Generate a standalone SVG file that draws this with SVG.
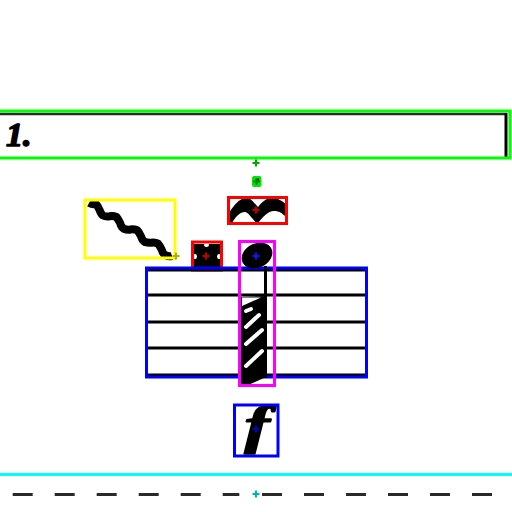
<svg xmlns="http://www.w3.org/2000/svg" width="512" height="512" viewBox="0 0 512 512">
<style>
.box{fill:none;stroke-width:3}
.staff{stroke:#000;stroke-width:3}
.ink{fill:#000}
.mark{fill:none;stroke-width:2.2}
.txt{font-family:"Liberation Serif","Times New Roman",serif;font-weight:bold;font-style:italic;fill:#000;stroke:#000;stroke-linejoin:round}
</style>
<defs>
<path id="plus" d="M-3.5,0H3.5M0,-3.5V3.5"/>
</defs>
<rect width="512" height="512" fill="#fff"/>

<g id="volta">
<line x1="0" y1="114" x2="507" y2="114" stroke="#2a2a2a" stroke-width="2.5"/>
<line x1="506" y1="113" x2="506" y2="157" stroke="#000" stroke-width="3"/>
<text class="txt" x="6" y="145.5" font-size="34" stroke-width="1.6">1.</text>
<rect class="box" x="-5" y="111" width="515" height="47" stroke="#00ff00"/>
<use href="#plus" class="mark" x="256" y="163" stroke="#00a800"/>
<rect x="252" y="176" width="9.5" height="11" rx="2" fill="#00e600"/>
<use href="#plus" class="mark" x="256.5" y="181.5" stroke="#008800"/>
<rect x="257.5" y="178.5" width="1.5" height="2" fill="#000"/>
</g>

<g id="glissando">
<path d="M89,203 Q93,205 95.8,203.8 Q98,206 99.4,209.6 Q101,214 103,215.5 Q106,217 109.75,216.25 Q113,215.5 116.5,217 Q118,219 120.1,222.9 Q121,227 123.7,228.7 Q127,230 130.5,229.5 Q134,229 137.3,230.3 Q139,232 140.9,236.1 Q142,240 144.5,241.9 Q148,243 151.25,242.75 Q155,242 158,243.6 Q160,246 161.6,249.4 Q163,254 165.2,255.2 Q169,257 172,256" fill="none" stroke="#000" stroke-width="8" stroke-linejoin="round"/>
<rect class="box" x="85" y="200" width="90" height="58" stroke="#ffff00"/>
<use href="#plus" class="mark" x="176" y="256" stroke="#b0b000"/>
</g>

<g id="trill">
<path d="M229,213 C234,205 239,199 245,198 C251,197 254,203 258,207 C262,202 266,198 272,198 C278,198 282,201 286,204 L286,217 C282,213 279,211 274,211 C268,211 263,217 258,223 C253,222 250,213 245,212 C239,212 235,218 232,223 L229,223 Z" class="ink"/>
<rect class="box" x="228.5" y="197.5" width="58" height="26" stroke="#ff0000"/>
<use href="#plus" class="mark" x="256" y="210" stroke="#c00000"/>
</g>

<g id="accidental">
<rect x="194" y="244" width="26" height="25" class="ink"/>
<ellipse cx="206.5" cy="245" rx="2.5" ry="2" fill="#fff"/>
<ellipse cx="206.5" cy="269" rx="2.5" ry="2" fill="#fff"/>
<ellipse cx="195" cy="256.5" rx="2" ry="2.5" fill="#fff"/>
<ellipse cx="219" cy="256.5" rx="2" ry="2.5" fill="#fff"/>
<rect class="box" x="192.5" y="242" width="29" height="28" stroke="#ff0000"/>
<use href="#plus" class="mark" x="206" y="256" stroke="#c00000"/>
</g>

<g id="staff">
<line class="staff" x1="147" y1="270" x2="366" y2="270"/>
<line class="staff" x1="147" y1="295" x2="366" y2="295"/>
<line class="staff" x1="147" y1="322" x2="366" y2="322"/>
<line class="staff" x1="147" y1="348" x2="366" y2="348"/>
<line class="staff" x1="147" y1="375" x2="366" y2="375"/>
<rect class="box" x="146.5" y="268" width="220" height="109" stroke="#0000ff"/>
</g>

<g id="note">
<ellipse cx="257" cy="255.5" rx="16" ry="12" transform="rotate(-25 257 255.5)" class="ink"/>
<line x1="265.5" y1="266" x2="265.5" y2="378" stroke="#000" stroke-width="3"/>
<path d="M241,297 L266,296 L266,377 L244,387 L241,385 Z" class="ink"/>
<path d="M242,297.5 L261,297.5 L242,306 Z" fill="#fff"/>
<g stroke="#fff" stroke-width="4" stroke-linecap="round">
<line x1="246" y1="311" x2="251" y2="309"/>
<line x1="246" y1="327" x2="259" y2="315"/>
<line x1="246" y1="344" x2="262" y2="330"/>
<line x1="246" y1="366" x2="262" y2="351"/>
</g>
<rect class="box" x="239.5" y="241.5" width="35" height="144" stroke="#ff00ff"/>
<use href="#plus" class="mark" x="256" y="256" stroke="#1010ff"/>
</g>

<g id="dynamic">
<text class="txt" font-size="52" text-anchor="middle" stroke-width="1.6" transform="translate(257 443) scale(1.45 1)">f</text>
<rect class="box" x="234.5" y="405" width="43.5" height="51" stroke="#0000ff"/>
<use href="#plus" class="mark" x="256" y="429" stroke="#0000c0"/>
</g>

<g id="rule">
<line x1="0" y1="474.5" x2="512" y2="474.5" stroke="#00ffff" stroke-width="3"/>
<line x1="12.7" y1="494.5" x2="239.3" y2="494.5" stroke="#2a2a2a" stroke-width="3" stroke-dasharray="20 22"/>
<line x1="262" y1="494.5" x2="492" y2="494.5" stroke="#2a2a2a" stroke-width="3" stroke-dasharray="20 22"/>
<use href="#plus" class="mark" x="256" y="494" stroke="#00b4b4"/>
</g>
</svg>
